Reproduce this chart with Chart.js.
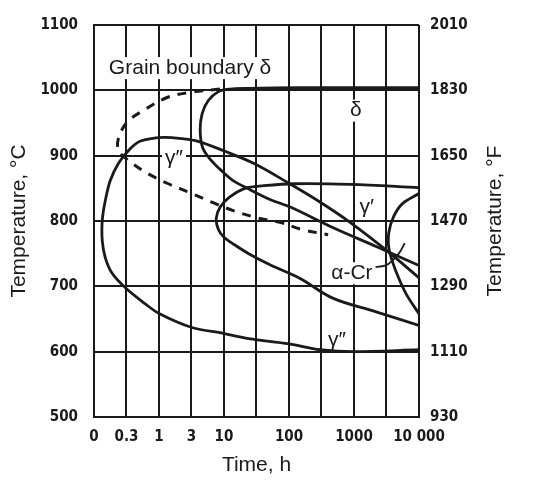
<!DOCTYPE html>
<html>
<head>
<meta charset="utf-8">
<script src="https://cdn.jsdelivr.net/npm/chart.js@4.4.1/dist/chart.umd.min.js"></script>
<style>
  html, body { margin: 0; padding: 0; background: #fff; }
</style>
</head>
<body>
<canvas id="ttt" width="546" height="485"></canvas>
<script>
// time axis: half-decade grid, hours
var timeTicks  = [0.1, 0.316, 1, 3.16, 10, 31.6, 100, 316, 1000, 3160, 10000];
var timeLabels = ['0', '0.3', '1', '3', '10', '', '100', '', '1000', '', '10 000'];
var tempTicksF = ['930', '1110', '1290', '1470', '1650', '1830', '2010'];

// curves as [time h, temperature C]
var gammaDoublePrime = [[10000,713],[3170,755],[870,798],[279,831],[95,859],[29,888],[9.6,908],
  [4.0,922],[2.3,926],[1.16,928],[0.51,922],[0.34,908],[0.237,888],[0.178,862],[0.149,831],
  [0.134,801],[0.134,770],[0.149,744],[0.19,720],[0.31,697],[0.60,674],[1.02,658],[3.2,637],[9.8,628],[24,620],
  [100,612],[300,603],[1000,600],[10000,603]];
var deltaPhase = [[10000,1004],[148,1004],[24,1003],[12.3,1002],[8.2,998],[5.7,984],[4.6,964],[4.3,938],
  [4.7,912],[6.3,893],[8.7,879],[13.3,863],[23,850],[51,833],[107,821],[470,790],[2190,761],[10000,732]];
var gammaPrime = [[10000,851],[870,856],[123,857],[41,854],[21,850],[12,836],[8.7,821],[7.6,804],[8.2,787],
  [10,775],[14.3,764],[24,750],[51,733],[148,712],[470,682],[2190,661],[10000,640]];
var grainBoundaryDelta = [[8.7,1002],[6.8,1001],[3.0,997],[1.33,989],[0.57,969],[0.32,951],[0.237,926],
  [0.237,908],[0.30,897],[0.39,888],[0.66,873],[1.39,857],[3.2,842],[6.8,828],[13.8,816],[32,805],
  [72,798],[158,787],[400,779]];
var alphaCr = [[10000,842],[5620,827],[4080,807],[3430,782],[3430,759],[3960,736],[4900,712],[6460,687],[10000,658]];
var alphaCrLeader = [[1950,729],[3090,732],[3960,740],[5040,752],[6030,766]];

var noteTexts  = ['Grain boundary δ', 'δ', 'γ″', 'γ′', 'α-Cr', 'γ″'];
var noteSpots  = [[3.0,1034], [1070,969], [1.7,896], [1570,821], [930,720], [545,617]];
var noteBoxed  = [true, true, true, false, true, false];

var ink = '#1a1a1a';
var tickFont  = { family: '"DejaVu Sans Condensed", "DejaVu Sans", sans-serif', size: 15, weight: 'bold' };
var titleFont = { family: '"Liberation Sans", Arial, sans-serif', size: 21 };

function pts(arr) {
  return arr.map(function(p) { return { x: p[0], y: p[1] }; });
}

function curve(arr, w, dash) {
  return {
    data: pts(arr),
    showLine: true,
    pointRadius: 0,
    borderColor: ink,
    borderWidth: w,
    borderDash: dash || [],
    tension: 0.35,
    fill: false
  };
}

var notes = {
  id: 'notes',
  afterDatasetsDraw: function(chart) {
    var ctx = chart.ctx, xs = chart.scales.x, ys = chart.scales.y, area = chart.chartArea;
    ctx.save();
    ctx.font = '21px "Liberation Sans", Arial, sans-serif';
    ctx.textAlign = 'center';
    ctx.textBaseline = 'middle';
    noteTexts.forEach(function(txt, i) {
      var px = xs.getPixelForValue(noteSpots[i][0]);
      var py = ys.getPixelForValue(noteSpots[i][1]);
      var w = ctx.measureText(txt).width;
      if (noteBoxed[i]) {
        ctx.fillStyle = '#fff';
        ctx.fillRect(px - w / 2 - 3, py - 11, w + 6, 22);
      }
      ctx.fillStyle = ink;
      ctx.fillText(txt, px, py);
    });
    // right hand axis title reads upward like the left one
    ctx.translate(area.right + 76, (area.top + area.bottom) / 2);
    ctx.rotate(-Math.PI / 2);
    ctx.fillText('Temperature, °F', 0, 0);
    ctx.restore();
  }
};

new Chart(document.getElementById('ttt'), {
  type: 'scatter',
  data: {
    datasets: [
      curve(gammaDoublePrime, 2.8),
      curve(deltaPhase, 2.8),
      curve(gammaPrime, 2.8),
      curve(grainBoundaryDelta, 3, [9, 8]),
      curve(alphaCr, 2.8),
      curve(alphaCrLeader, 1.8)
    ]
  },
  options: {
    responsive: false,
    animation: false,
    devicePixelRatio: 1,
    layout: { padding: { top: 24, left: 0, right: 0, bottom: 0 } },
    plugins: { legend: { display: false }, tooltip: { enabled: false } },
    scales: {
      x: {
        type: 'logarithmic',
        min: 0.1,
        max: 10000,
        afterBuildTicks: function(s) {
          s.ticks = timeTicks.map(function(v) { return { value: v }; });
        },
        afterFit: function(s) { s.height = 68; },
        grid: { color: ink, lineWidth: 2, drawTicks: false },
        border: { color: ink, width: 2 },
        ticks: {
          padding: 11, color: ink, font: tickFont, autoSkip: false, maxRotation: 0,
          callback: function(v, i) { return timeLabels[i]; }
        },
        title: { display: true, text: 'Time, h', color: ink, font: titleFont, padding: { top: 0, bottom: 7 } }
      },
      y: {
        position: 'left',
        min: 500,
        max: 1100,
        afterFit: function(s) { s.width = 94; },
        grid: { color: ink, lineWidth: 2, drawTicks: false },
        border: { color: ink, width: 2 },
        ticks: {
          stepSize: 100, padding: 16, color: ink, font: tickFont,
          callback: function(v) { return String(v); }
        },
        title: { display: true, text: 'Temperature, °C', color: ink, font: titleFont, padding: { top: 7, bottom: 0 } }
      },
      yF: {
        position: 'right',
        min: 500,
        max: 1100,
        afterFit: function(s) { s.width = 127; },
        grid: { display: false, drawTicks: false },
        border: { display: false },
        ticks: {
          stepSize: 100, padding: 11, color: ink, font: tickFont,
          callback: function(v, i) { return tempTicksF[i]; }
        }
      }
    }
  },
  plugins: [notes]
});
</script>
</body>
</html>
